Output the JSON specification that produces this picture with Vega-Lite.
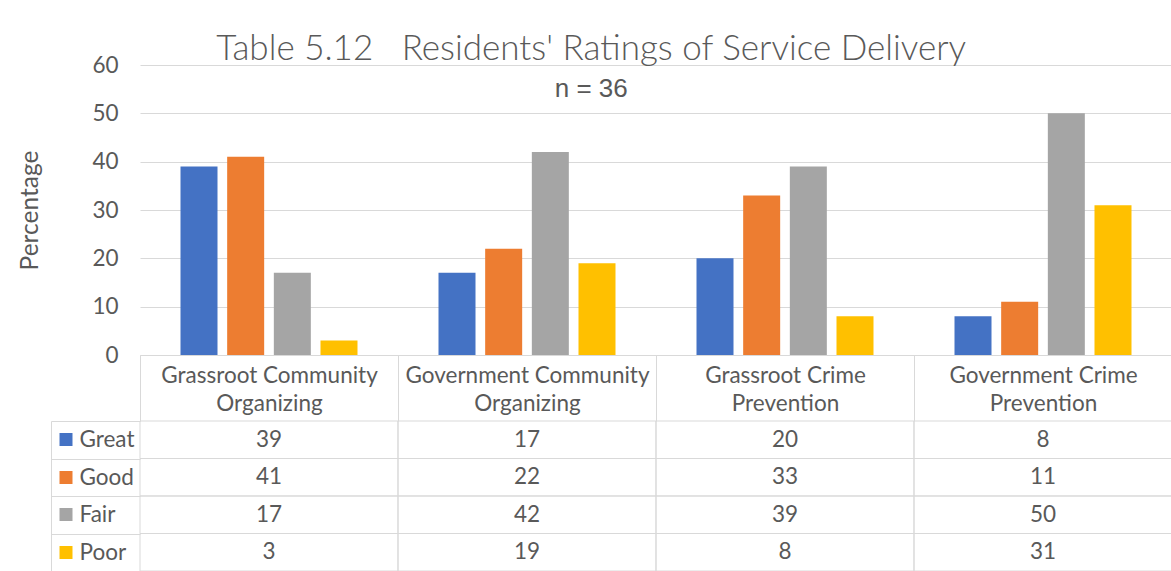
{
  "$schema": "https://vega.github.io/schema/vega-lite/v6.json",
  "background": "white",
  "autosize": {"type": "pad"},
  "padding": {"left": 17, "top": 32, "right": 0, "bottom": 0},
  "bounds": "flush",
  "spacing": 66,
  "title": {
    "text": "Table 5.12\u00a0\u00a0\u00a0Residents' Ratings of Service Delivery",
    "subtitle": "n = 36",
    "anchor": "middle",
    "frame": "bounds",
    "font": "Lato",
    "fontSize": 35,
    "fontWeight": 300,
    "color": "#595959",
    "subtitleFont": "Liberation Sans",
    "subtitleFontSize": 26,
    "subtitleColor": "#595959",
    "subtitlePadding": 9,
    "offset": -48,
    "dx": -4
  },
  "config": {
    "view": {"stroke": null},
    "font": "Lato",
    "axis": {"labelFont": "Lato", "titleFont": "Lato", "labelColor": "#595959", "titleColor": "#595959"}
  },
  "datasets": {
    "ratings": [
      {"category": "Grassroot Community Organizing", "rating": "Great", "value": 39},
      {"category": "Grassroot Community Organizing", "rating": "Good", "value": 41},
      {"category": "Grassroot Community Organizing", "rating": "Fair", "value": 17},
      {"category": "Grassroot Community Organizing", "rating": "Poor", "value": 3},
      {"category": "Government Community Organizing", "rating": "Great", "value": 17},
      {"category": "Government Community Organizing", "rating": "Good", "value": 22},
      {"category": "Government Community Organizing", "rating": "Fair", "value": 42},
      {"category": "Government Community Organizing", "rating": "Poor", "value": 19},
      {"category": "Grassroot Crime Prevention", "rating": "Great", "value": 20},
      {"category": "Grassroot Crime Prevention", "rating": "Good", "value": 33},
      {"category": "Grassroot Crime Prevention", "rating": "Fair", "value": 39},
      {"category": "Grassroot Crime Prevention", "rating": "Poor", "value": 8},
      {"category": "Government Crime Prevention", "rating": "Great", "value": 8},
      {"category": "Government Crime Prevention", "rating": "Good", "value": 11},
      {"category": "Government Crime Prevention", "rating": "Fair", "value": 50},
      {"category": "Government Crime Prevention", "rating": "Poor", "value": 31}
    ]
  },
  "vconcat": [
    {
      "width": 1032,
      "height": 290,
      "data": {"name": "ratings"},
      "mark": {"type": "bar"},
      "encoding": {
        "x": {
          "field": "category", "type": "nominal",
          "sort": ["Grassroot Community Organizing", "Government Community Organizing", "Grassroot Crime Prevention", "Government Crime Prevention"],
          "scale": {"paddingInner": 0, "paddingOuter": 0},
          "axis": {
            "title": null, "labelAngle": 0, "domainColor": "#D9D9D9", "domainWidth": 1,
            "tickBand": "extent", "tickSize": 66, "tickColor": "#D9D9D9",
            "labelExpr": "[slice(datum.label, 0, lastindexof(datum.label, ' ')), slice(datum.label, lastindexof(datum.label, ' ') + 1)]",
            "labelFontSize": 22.5, "labelBaseline": "top", "labelPadding": -57, "labelLineHeight": 28, "labelLimit": 0
          }
        },
        "xOffset": {
          "field": "rating", "type": "nominal",
          "sort": ["Great", "Good", "Fair", "Poor"],
          "scale": {"paddingInner": 0.207, "paddingOuter": 0.868}
        },
        "y": {
          "field": "value", "type": "quantitative",
          "scale": {"domain": [0, 60]},
          "axis": {
            "title": "Percentage", "titleFontSize": 24.5, "titleFontWeight": "normal", "titlePadding": 49,
            "values": [0, 10, 20, 30, 40, 50, 60], "grid": true, "gridColor": "#D9D9D9",
            "domain": false, "ticks": false, "labelPadding": 22, "labelFontSize": 22.5
          }
        },
        "color": {
          "field": "rating", "type": "nominal",
          "scale": {"domain": ["Great", "Good", "Fair", "Poor"], "range": ["#4472C4", "#ED7D31", "#A5A5A5", "#FFC000"]},
          "legend": null
        }
      }
    },
    {
      "width": 1032,
      "height": 150,
      "data": {"name": "ratings"},
      "layer": [
        {
          "mark": {"type": "rect", "fill": "transparent", "stroke": "#D9D9D9", "strokeWidth": 1},
          "encoding": {
            "x": {
              "field": "category", "type": "nominal",
              "sort": ["Grassroot Community Organizing", "Government Community Organizing", "Grassroot Crime Prevention", "Government Crime Prevention"],
              "scale": {"paddingInner": 0, "paddingOuter": 0},
              "axis": null
            },
            "y": {
              "field": "rating", "type": "nominal",
              "sort": ["Great", "Good", "Fair", "Poor"],
              "scale": {"paddingInner": 0, "paddingOuter": 0},
              "axis": {
                "orient": "left", "title": null, "offset": 89,
                "domain": true, "domainColor": "#D9D9D9",
                "ticks": true, "tickBand": "extent", "tickSize": -89, "tickColor": "#D9D9D9",
                "labelAlign": "left", "labelPadding": 61, "labelFontSize": 22.5, "labelBaseline": "middle",
                "grid": false
              }
            }
          }
        },
        {
          "mark": {"type": "text", "fontSize": 22.5, "color": "#595959", "font": "Lato"},
          "encoding": {
            "x": {
              "field": "category", "type": "nominal",
              "sort": ["Grassroot Community Organizing", "Government Community Organizing", "Grassroot Crime Prevention", "Government Crime Prevention"],
              "axis": null
            },
            "y": {
              "field": "rating", "type": "nominal",
              "sort": ["Great", "Good", "Fair", "Poor"],
              "axis": {
                "orient": "left", "title": null, "offset": 81,
                "domain": false, "labels": false, "grid": false,
                "ticks": true, "tickSize": -13, "tickWidth": 13,
                "tickColor": {
                  "condition": [
                    {"test": "datum.value === 'Great'", "value": "#4472C4"},
                    {"test": "datum.value === 'Good'", "value": "#ED7D31"},
                    {"test": "datum.value === 'Fair'", "value": "#A5A5A5"}
                  ],
                  "value": "#FFC000"
                }
              }
            },
            "text": {"field": "value", "type": "quantitative"}
          }
        }
      ],
      "resolve": {"axis": {"y": "independent"}}
    }
  ]
}
